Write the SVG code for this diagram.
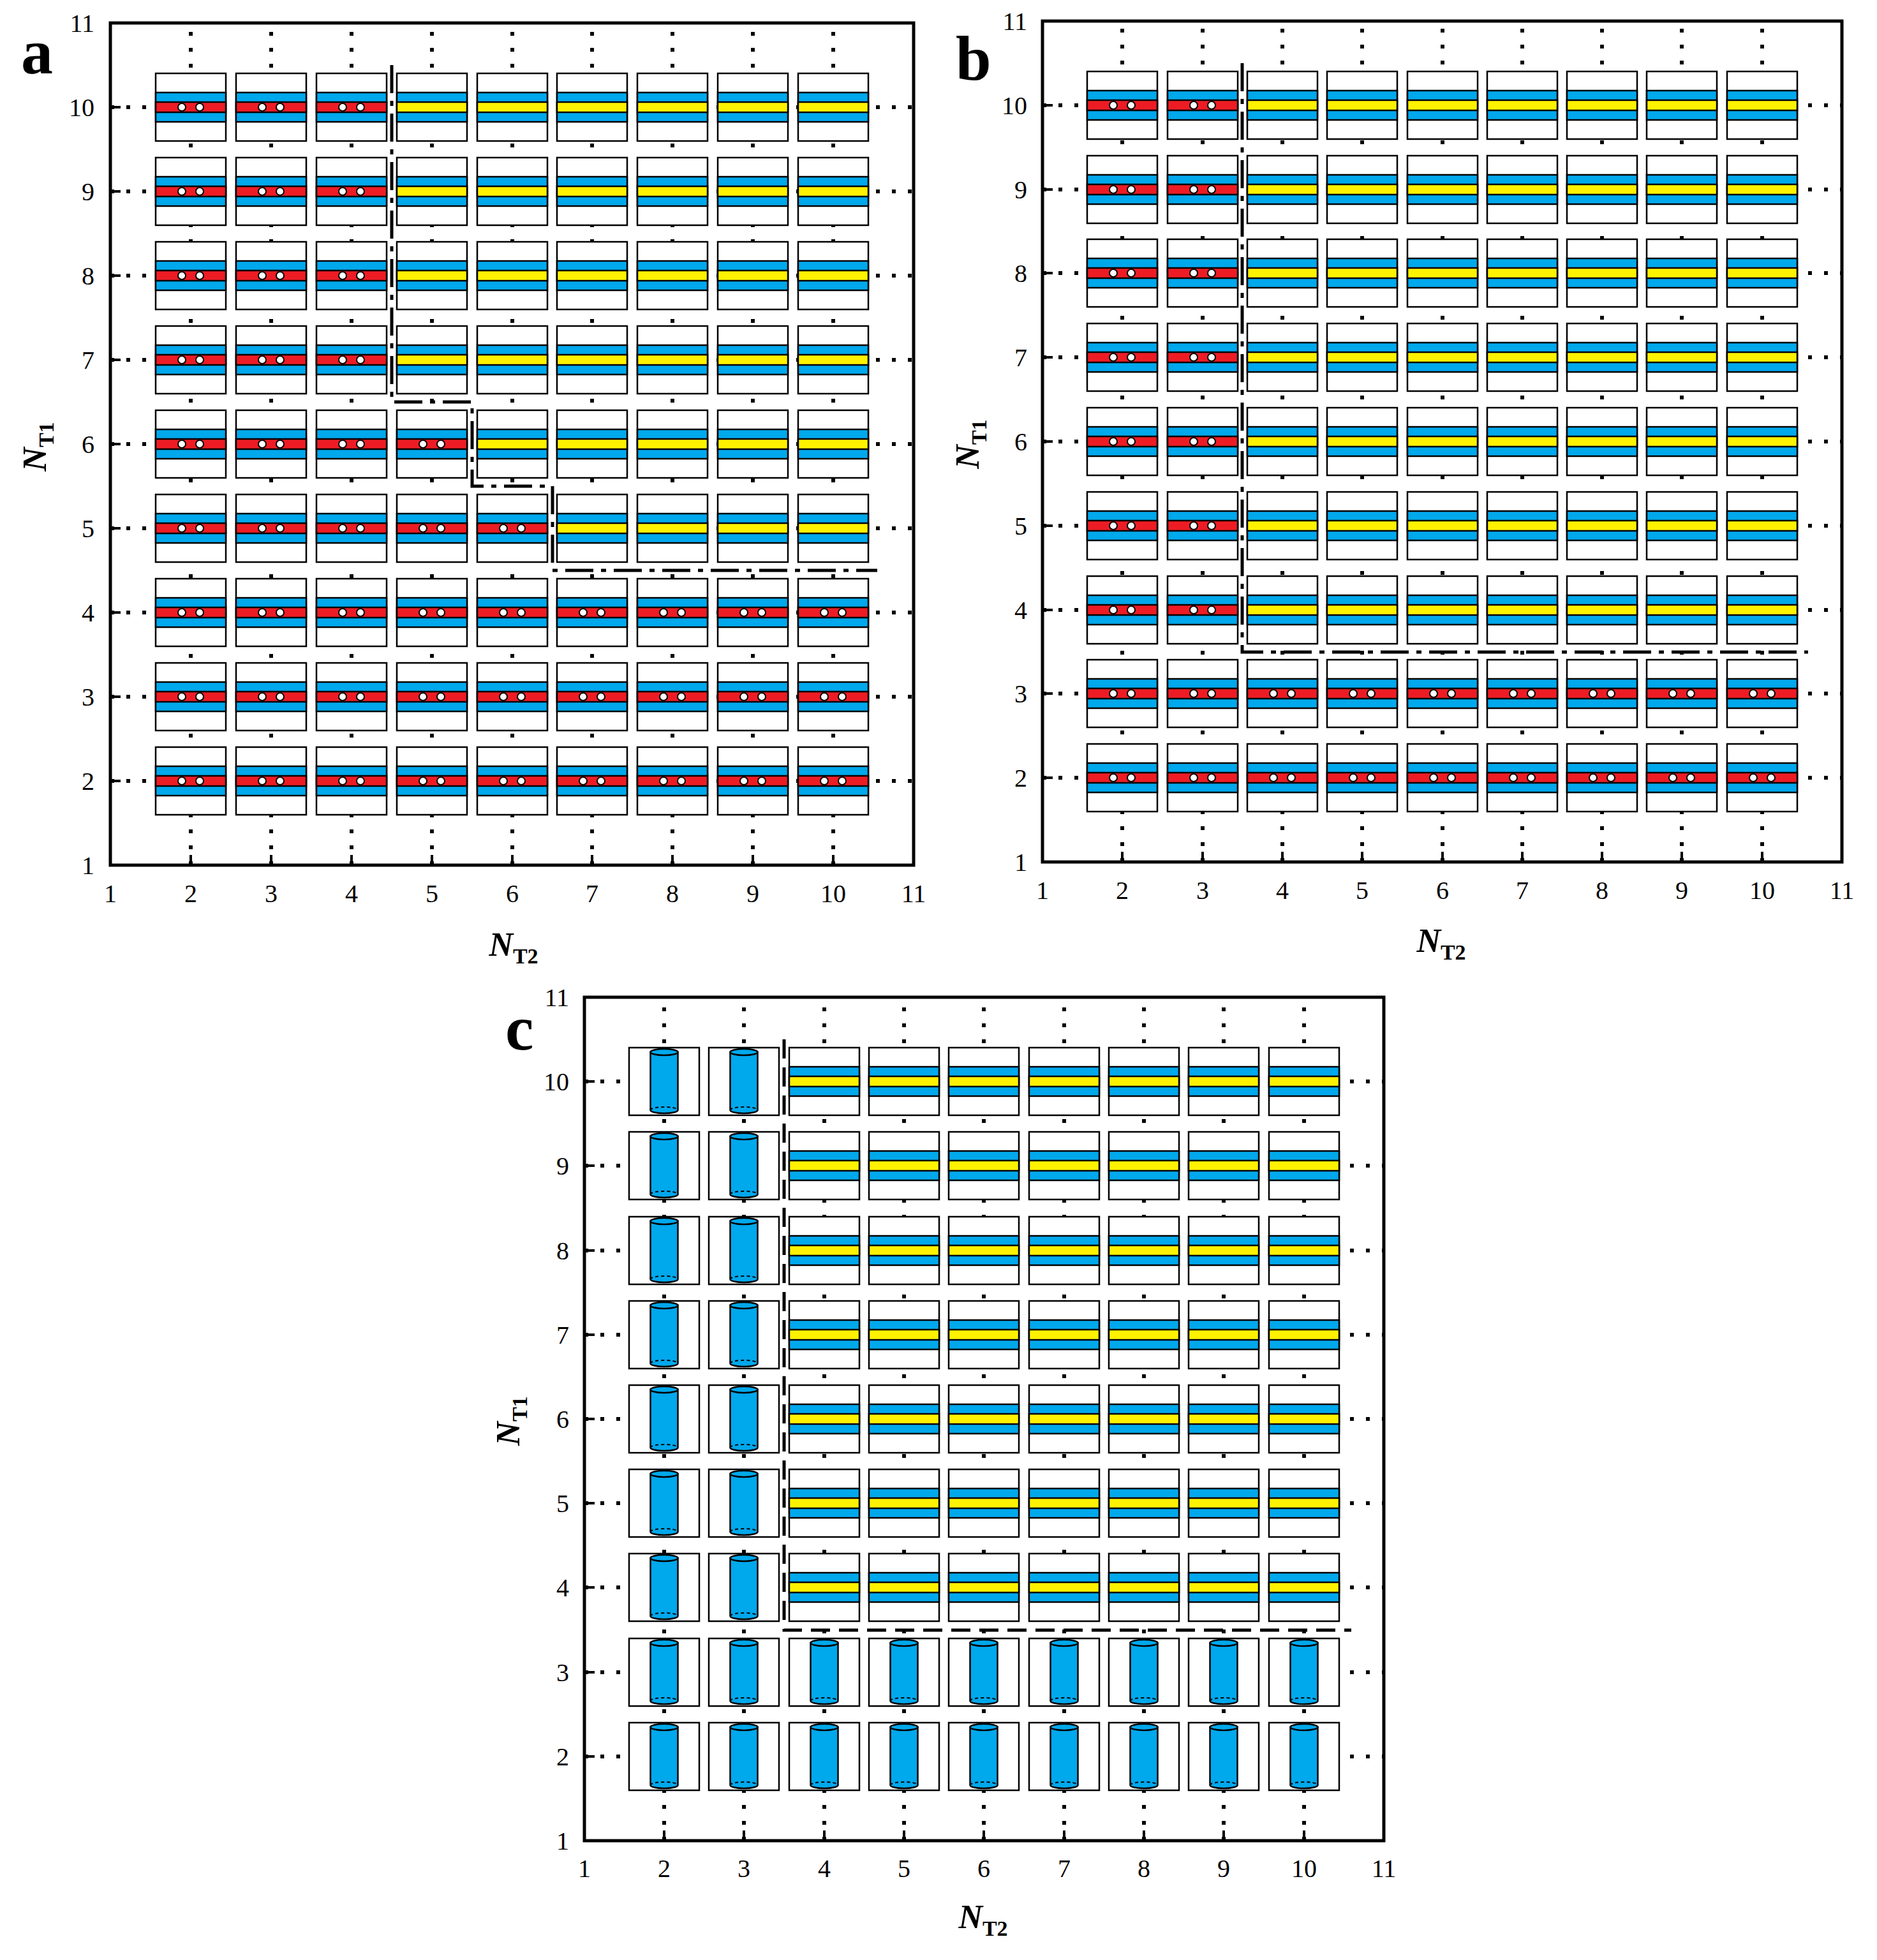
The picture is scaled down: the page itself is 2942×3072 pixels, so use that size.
<svg xmlns="http://www.w3.org/2000/svg" xmlns:xlink="http://www.w3.org/1999/xlink" width="2942" height="3072" viewBox="0 0 2942 3072">
<style>
.frame{fill:none;stroke:#000;stroke-width:5}
.grid{stroke:#000;stroke-width:6;stroke-dasharray:6 19;fill:none}
.tick{stroke:#000;stroke-width:4}
.tl{font-family:"Liberation Serif",serif;font-size:40px;fill:#000}
.tx{text-anchor:middle}
.ty{text-anchor:end}
.pl{font-family:"Liberation Serif",serif;font-size:100px;font-weight:bold}
.ax{font-family:"Liberation Serif",serif;font-size:52px;font-weight:bold;font-style:italic}
.sub{font-size:34px;font-style:normal}
.bd{fill:none;stroke:#000;stroke-width:5;stroke-dasharray:44 12 8 12}
.bd2{fill:none;stroke:#000;stroke-width:5;stroke-dasharray:30 14}
.box{fill:#fff;stroke:#000;stroke-width:2.5}
.bl{fill:#00a8ec;stroke:#000;stroke-width:2.5}
</style>
<defs>
<g id="R">
<rect class="box" x="-55" y="-53" width="110" height="106"/>
<rect class="bl" x="-55" y="-23" width="110" height="46"/>
<rect x="-55" y="-8" width="110" height="16" fill="#ed1c24" stroke="#000" stroke-width="2.5"/>
<circle cx="-14" cy="0" r="6" fill="#fff" stroke="#000" stroke-width="2"/>
<circle cx="14" cy="0" r="6" fill="#fff" stroke="#000" stroke-width="2"/>
</g>
<g id="Y">
<rect class="box" x="-55" y="-53" width="110" height="106"/>
<rect class="bl" x="-55" y="-23" width="110" height="46"/>
<rect x="-55" y="-8" width="110" height="16" fill="#fff200" stroke="#000" stroke-width="2.5"/>
</g>
<g id="C">
<rect class="box" x="-55" y="-53" width="110" height="106"/>
<path d="M-21.5,-46 L-21.5,45 A21.5,5 0 0 0 21.5,45 L21.5,-46 Z" class="bl"/>
<ellipse cx="0" cy="-46" rx="21.5" ry="5" class="bl"/>
<path d="M-21.5,45 A21.5,5 0 0 1 21.5,45" fill="none" stroke="#000" stroke-width="2" stroke-dasharray="5 4"/>
</g>
</defs>

<!-- Panel a -->
<g id="panel-a-axes">
<path class="grid" d="M299,1356V36M425,1356V36M551,1356V36M677,1356V36M803,1356V36M928,1356V36M1054,1356V36M1180,1356V36M1306,1356V36M173,1224H1432M173,1092H1432M173,960H1432M173,828H1432M173,696H1432M173,564H1432M173,432H1432M173,300H1432M173,168H1432"/>
<rect class="frame" x="173" y="36" width="1259" height="1320"/>
<path class="tick" d="M299,1356v-16M425,1356v-16M551,1356v-16M677,1356v-16M803,1356v-16M928,1356v-16M1054,1356v-16M1180,1356v-16M1306,1356v-16M173,1224h16M173,1092h16M173,960h16M173,828h16M173,696h16M173,564h16M173,432h16M173,300h16M173,168h16"/>
<g class="tl tx"><text x="173" y="1414">1</text><text x="299" y="1414">2</text><text x="425" y="1414">3</text><text x="551" y="1414">4</text><text x="677" y="1414">5</text><text x="803" y="1414">6</text><text x="928" y="1414">7</text><text x="1054" y="1414">8</text><text x="1180" y="1414">9</text><text x="1306" y="1414">10</text><text x="1432" y="1414">11</text></g>
<g class="tl ty"><text x="148" y="1370">1</text><text x="148" y="1238">2</text><text x="148" y="1106">3</text><text x="148" y="974">4</text><text x="148" y="842">5</text><text x="148" y="710">6</text><text x="148" y="578">7</text><text x="148" y="446">8</text><text x="148" y="314">9</text><text x="148" y="182">10</text><text x="148" y="50">11</text></g>
<text class="pl" x="33" y="115">a</text>
<text class="ax" x="805" y="1498" text-anchor="middle">N<tspan class="sub" dy="12">T2</tspan></text>
<text class="ax" transform="translate(72,700) rotate(-90)" text-anchor="middle">N<tspan class="sub" dy="12">T1</tspan></text>
</g>
<g id="panel-a-cells">
<g id="a-r2"><use href="#R" x="299" y="1224"/><use href="#R" x="425" y="1224"/><use href="#R" x="551" y="1224"/><use href="#R" x="677" y="1224"/><use href="#R" x="803" y="1224"/><use href="#R" x="928" y="1224"/><use href="#R" x="1054" y="1224"/><use href="#R" x="1180" y="1224"/><use href="#R" x="1306" y="1224"/></g>
<g id="a-r3"><use href="#R" x="299" y="1092"/><use href="#R" x="425" y="1092"/><use href="#R" x="551" y="1092"/><use href="#R" x="677" y="1092"/><use href="#R" x="803" y="1092"/><use href="#R" x="928" y="1092"/><use href="#R" x="1054" y="1092"/><use href="#R" x="1180" y="1092"/><use href="#R" x="1306" y="1092"/></g>
<g id="a-r4"><use href="#R" x="299" y="960"/><use href="#R" x="425" y="960"/><use href="#R" x="551" y="960"/><use href="#R" x="677" y="960"/><use href="#R" x="803" y="960"/><use href="#R" x="928" y="960"/><use href="#R" x="1054" y="960"/><use href="#R" x="1180" y="960"/><use href="#R" x="1306" y="960"/></g>
<g id="a-r5"><use href="#R" x="299" y="828"/><use href="#R" x="425" y="828"/><use href="#R" x="551" y="828"/><use href="#R" x="677" y="828"/><use href="#R" x="803" y="828"/><use href="#Y" x="928" y="828"/><use href="#Y" x="1054" y="828"/><use href="#Y" x="1180" y="828"/><use href="#Y" x="1306" y="828"/></g>
<g id="a-r6"><use href="#R" x="299" y="696"/><use href="#R" x="425" y="696"/><use href="#R" x="551" y="696"/><use href="#R" x="677" y="696"/><use href="#Y" x="803" y="696"/><use href="#Y" x="928" y="696"/><use href="#Y" x="1054" y="696"/><use href="#Y" x="1180" y="696"/><use href="#Y" x="1306" y="696"/></g>
<g id="a-r7"><use href="#R" x="299" y="564"/><use href="#R" x="425" y="564"/><use href="#R" x="551" y="564"/><use href="#Y" x="677" y="564"/><use href="#Y" x="803" y="564"/><use href="#Y" x="928" y="564"/><use href="#Y" x="1054" y="564"/><use href="#Y" x="1180" y="564"/><use href="#Y" x="1306" y="564"/></g>
<g id="a-r8"><use href="#R" x="299" y="432"/><use href="#R" x="425" y="432"/><use href="#R" x="551" y="432"/><use href="#Y" x="677" y="432"/><use href="#Y" x="803" y="432"/><use href="#Y" x="928" y="432"/><use href="#Y" x="1054" y="432"/><use href="#Y" x="1180" y="432"/><use href="#Y" x="1306" y="432"/></g>
<g id="a-r9"><use href="#R" x="299" y="300"/><use href="#R" x="425" y="300"/><use href="#R" x="551" y="300"/><use href="#Y" x="677" y="300"/><use href="#Y" x="803" y="300"/><use href="#Y" x="928" y="300"/><use href="#Y" x="1054" y="300"/><use href="#Y" x="1180" y="300"/><use href="#Y" x="1306" y="300"/></g>
<g id="a-r10"><use href="#R" x="299" y="168"/><use href="#R" x="425" y="168"/><use href="#R" x="551" y="168"/><use href="#Y" x="677" y="168"/><use href="#Y" x="803" y="168"/><use href="#Y" x="928" y="168"/><use href="#Y" x="1054" y="168"/><use href="#Y" x="1180" y="168"/><use href="#Y" x="1306" y="168"/></g>
</g>

<!-- Panel b -->
<g id="panel-b-axes">
<path class="grid" d="M1759,1351V33M1885,1351V33M2010,1351V33M2135,1351V33M2261,1351V33M2386,1351V33M2511,1351V33M2636,1351V33M2762,1351V33M1634,1219H2887M1634,1087H2887M1634,956H2887M1634,824H2887M1634,692H2887M1634,560H2887M1634,428H2887M1634,297H2887M1634,165H2887"/>
<rect class="frame" x="1634" y="33" width="1253" height="1318"/>
<path class="tick" d="M1759,1351v-16M1885,1351v-16M2010,1351v-16M2135,1351v-16M2261,1351v-16M2386,1351v-16M2511,1351v-16M2636,1351v-16M2762,1351v-16M1634,1219h16M1634,1087h16M1634,956h16M1634,824h16M1634,692h16M1634,560h16M1634,428h16M1634,297h16M1634,165h16"/>
<g class="tl tx"><text x="1634" y="1409">1</text><text x="1759" y="1409">2</text><text x="1885" y="1409">3</text><text x="2010" y="1409">4</text><text x="2135" y="1409">5</text><text x="2261" y="1409">6</text><text x="2386" y="1409">7</text><text x="2511" y="1409">8</text><text x="2636" y="1409">9</text><text x="2762" y="1409">10</text><text x="2887" y="1409">11</text></g>
<g class="tl ty"><text x="1610" y="1365">1</text><text x="1610" y="1233">2</text><text x="1610" y="1101">3</text><text x="1610" y="970">4</text><text x="1610" y="838">5</text><text x="1610" y="706">6</text><text x="1610" y="574">7</text><text x="1610" y="442">8</text><text x="1610" y="311">9</text><text x="1610" y="179">10</text><text x="1610" y="47">11</text></g>
<text class="pl" x="1498" y="125">b</text>
<text class="ax" x="2259" y="1492" text-anchor="middle">N<tspan class="sub" dy="12">T2</tspan></text>
<text class="ax" transform="translate(1534,696) rotate(-90)" text-anchor="middle">N<tspan class="sub" dy="12">T1</tspan></text>
</g>
<g id="panel-b-cells">
<g id="b-r2"><use href="#R" x="1759" y="1219"/><use href="#R" x="1885" y="1219"/><use href="#R" x="2010" y="1219"/><use href="#R" x="2135" y="1219"/><use href="#R" x="2261" y="1219"/><use href="#R" x="2386" y="1219"/><use href="#R" x="2511" y="1219"/><use href="#R" x="2636" y="1219"/><use href="#R" x="2762" y="1219"/></g>
<g id="b-r3"><use href="#R" x="1759" y="1087"/><use href="#R" x="1885" y="1087"/><use href="#R" x="2010" y="1087"/><use href="#R" x="2135" y="1087"/><use href="#R" x="2261" y="1087"/><use href="#R" x="2386" y="1087"/><use href="#R" x="2511" y="1087"/><use href="#R" x="2636" y="1087"/><use href="#R" x="2762" y="1087"/></g>
<g id="b-r4"><use href="#R" x="1759" y="956"/><use href="#R" x="1885" y="956"/><use href="#Y" x="2010" y="956"/><use href="#Y" x="2135" y="956"/><use href="#Y" x="2261" y="956"/><use href="#Y" x="2386" y="956"/><use href="#Y" x="2511" y="956"/><use href="#Y" x="2636" y="956"/><use href="#Y" x="2762" y="956"/></g>
<g id="b-r5"><use href="#R" x="1759" y="824"/><use href="#R" x="1885" y="824"/><use href="#Y" x="2010" y="824"/><use href="#Y" x="2135" y="824"/><use href="#Y" x="2261" y="824"/><use href="#Y" x="2386" y="824"/><use href="#Y" x="2511" y="824"/><use href="#Y" x="2636" y="824"/><use href="#Y" x="2762" y="824"/></g>
<g id="b-r6"><use href="#R" x="1759" y="692"/><use href="#R" x="1885" y="692"/><use href="#Y" x="2010" y="692"/><use href="#Y" x="2135" y="692"/><use href="#Y" x="2261" y="692"/><use href="#Y" x="2386" y="692"/><use href="#Y" x="2511" y="692"/><use href="#Y" x="2636" y="692"/><use href="#Y" x="2762" y="692"/></g>
<g id="b-r7"><use href="#R" x="1759" y="560"/><use href="#R" x="1885" y="560"/><use href="#Y" x="2010" y="560"/><use href="#Y" x="2135" y="560"/><use href="#Y" x="2261" y="560"/><use href="#Y" x="2386" y="560"/><use href="#Y" x="2511" y="560"/><use href="#Y" x="2636" y="560"/><use href="#Y" x="2762" y="560"/></g>
<g id="b-r8"><use href="#R" x="1759" y="428"/><use href="#R" x="1885" y="428"/><use href="#Y" x="2010" y="428"/><use href="#Y" x="2135" y="428"/><use href="#Y" x="2261" y="428"/><use href="#Y" x="2386" y="428"/><use href="#Y" x="2511" y="428"/><use href="#Y" x="2636" y="428"/><use href="#Y" x="2762" y="428"/></g>
<g id="b-r9"><use href="#R" x="1759" y="297"/><use href="#R" x="1885" y="297"/><use href="#Y" x="2010" y="297"/><use href="#Y" x="2135" y="297"/><use href="#Y" x="2261" y="297"/><use href="#Y" x="2386" y="297"/><use href="#Y" x="2511" y="297"/><use href="#Y" x="2636" y="297"/><use href="#Y" x="2762" y="297"/></g>
<g id="b-r10"><use href="#R" x="1759" y="165"/><use href="#R" x="1885" y="165"/><use href="#Y" x="2010" y="165"/><use href="#Y" x="2135" y="165"/><use href="#Y" x="2261" y="165"/><use href="#Y" x="2386" y="165"/><use href="#Y" x="2511" y="165"/><use href="#Y" x="2636" y="165"/><use href="#Y" x="2762" y="165"/></g>
</g>

<!-- Panel c -->
<g id="panel-c-axes">
<path class="grid" d="M1041,2885V1563M1166,2885V1563M1292,2885V1563M1417,2885V1563M1542,2885V1563M1668,2885V1563M1793,2885V1563M1918,2885V1563M2044,2885V1563M916,2753H2169M916,2621H2169M916,2488H2169M916,2356H2169M916,2224H2169M916,2092H2169M916,1960H2169M916,1827H2169M916,1695H2169"/>
<rect class="frame" x="916" y="1563" width="1253" height="1322"/>
<path class="tick" d="M1041,2885v-16M1166,2885v-16M1292,2885v-16M1417,2885v-16M1542,2885v-16M1668,2885v-16M1793,2885v-16M1918,2885v-16M2044,2885v-16M916,2753h16M916,2621h16M916,2488h16M916,2356h16M916,2224h16M916,2092h16M916,1960h16M916,1827h16M916,1695h16"/>
<g class="tl tx"><text x="916" y="2942">1</text><text x="1041" y="2942">2</text><text x="1166" y="2942">3</text><text x="1292" y="2942">4</text><text x="1417" y="2942">5</text><text x="1542" y="2942">6</text><text x="1668" y="2942">7</text><text x="1793" y="2942">8</text><text x="1918" y="2942">9</text><text x="2044" y="2942">10</text><text x="2169" y="2942">11</text></g>
<g class="tl ty"><text x="892" y="2899">1</text><text x="892" y="2767">2</text><text x="892" y="2635">3</text><text x="892" y="2502">4</text><text x="892" y="2370">5</text><text x="892" y="2238">6</text><text x="892" y="2106">7</text><text x="892" y="1974">8</text><text x="892" y="1841">9</text><text x="892" y="1709">10</text><text x="892" y="1577">11</text></g>
<text class="pl" x="792" y="1645">c</text>
<text class="ax" x="1541" y="3022" text-anchor="middle">N<tspan class="sub" dy="12">T2</tspan></text>
<text class="ax" transform="translate(814,2227) rotate(-90)" text-anchor="middle">N<tspan class="sub" dy="12">T1</tspan></text>
</g>
<g id="panel-c-cells">
<g id="c-r2"><use href="#C" x="1041" y="2753"/><use href="#C" x="1166" y="2753"/><use href="#C" x="1292" y="2753"/><use href="#C" x="1417" y="2753"/><use href="#C" x="1542" y="2753"/><use href="#C" x="1668" y="2753"/><use href="#C" x="1793" y="2753"/><use href="#C" x="1918" y="2753"/><use href="#C" x="2044" y="2753"/></g>
<g id="c-r3"><use href="#C" x="1041" y="2621"/><use href="#C" x="1166" y="2621"/><use href="#C" x="1292" y="2621"/><use href="#C" x="1417" y="2621"/><use href="#C" x="1542" y="2621"/><use href="#C" x="1668" y="2621"/><use href="#C" x="1793" y="2621"/><use href="#C" x="1918" y="2621"/><use href="#C" x="2044" y="2621"/></g>
<g id="c-r4"><use href="#C" x="1041" y="2488"/><use href="#C" x="1166" y="2488"/><use href="#Y" x="1292" y="2488"/><use href="#Y" x="1417" y="2488"/><use href="#Y" x="1542" y="2488"/><use href="#Y" x="1668" y="2488"/><use href="#Y" x="1793" y="2488"/><use href="#Y" x="1918" y="2488"/><use href="#Y" x="2044" y="2488"/></g>
<g id="c-r5"><use href="#C" x="1041" y="2356"/><use href="#C" x="1166" y="2356"/><use href="#Y" x="1292" y="2356"/><use href="#Y" x="1417" y="2356"/><use href="#Y" x="1542" y="2356"/><use href="#Y" x="1668" y="2356"/><use href="#Y" x="1793" y="2356"/><use href="#Y" x="1918" y="2356"/><use href="#Y" x="2044" y="2356"/></g>
<g id="c-r6"><use href="#C" x="1041" y="2224"/><use href="#C" x="1166" y="2224"/><use href="#Y" x="1292" y="2224"/><use href="#Y" x="1417" y="2224"/><use href="#Y" x="1542" y="2224"/><use href="#Y" x="1668" y="2224"/><use href="#Y" x="1793" y="2224"/><use href="#Y" x="1918" y="2224"/><use href="#Y" x="2044" y="2224"/></g>
<g id="c-r7"><use href="#C" x="1041" y="2092"/><use href="#C" x="1166" y="2092"/><use href="#Y" x="1292" y="2092"/><use href="#Y" x="1417" y="2092"/><use href="#Y" x="1542" y="2092"/><use href="#Y" x="1668" y="2092"/><use href="#Y" x="1793" y="2092"/><use href="#Y" x="1918" y="2092"/><use href="#Y" x="2044" y="2092"/></g>
<g id="c-r8"><use href="#C" x="1041" y="1960"/><use href="#C" x="1166" y="1960"/><use href="#Y" x="1292" y="1960"/><use href="#Y" x="1417" y="1960"/><use href="#Y" x="1542" y="1960"/><use href="#Y" x="1668" y="1960"/><use href="#Y" x="1793" y="1960"/><use href="#Y" x="1918" y="1960"/><use href="#Y" x="2044" y="1960"/></g>
<g id="c-r9"><use href="#C" x="1041" y="1827"/><use href="#C" x="1166" y="1827"/><use href="#Y" x="1292" y="1827"/><use href="#Y" x="1417" y="1827"/><use href="#Y" x="1542" y="1827"/><use href="#Y" x="1668" y="1827"/><use href="#Y" x="1793" y="1827"/><use href="#Y" x="1918" y="1827"/><use href="#Y" x="2044" y="1827"/></g>
<g id="c-r10"><use href="#C" x="1041" y="1695"/><use href="#C" x="1166" y="1695"/><use href="#Y" x="1292" y="1695"/><use href="#Y" x="1417" y="1695"/><use href="#Y" x="1542" y="1695"/><use href="#Y" x="1668" y="1695"/><use href="#Y" x="1793" y="1695"/><use href="#Y" x="1918" y="1695"/><use href="#Y" x="2044" y="1695"/></g>
</g>

<g id="boundaries">
<path class="bd" d="M614,102V630H740V762H866V894H1375"/>
<path class="bd" d="M1947,99V1022H2834"/>
<path class="bd2" d="M1229,1629V2555H2118"/>
</g>
</svg>
